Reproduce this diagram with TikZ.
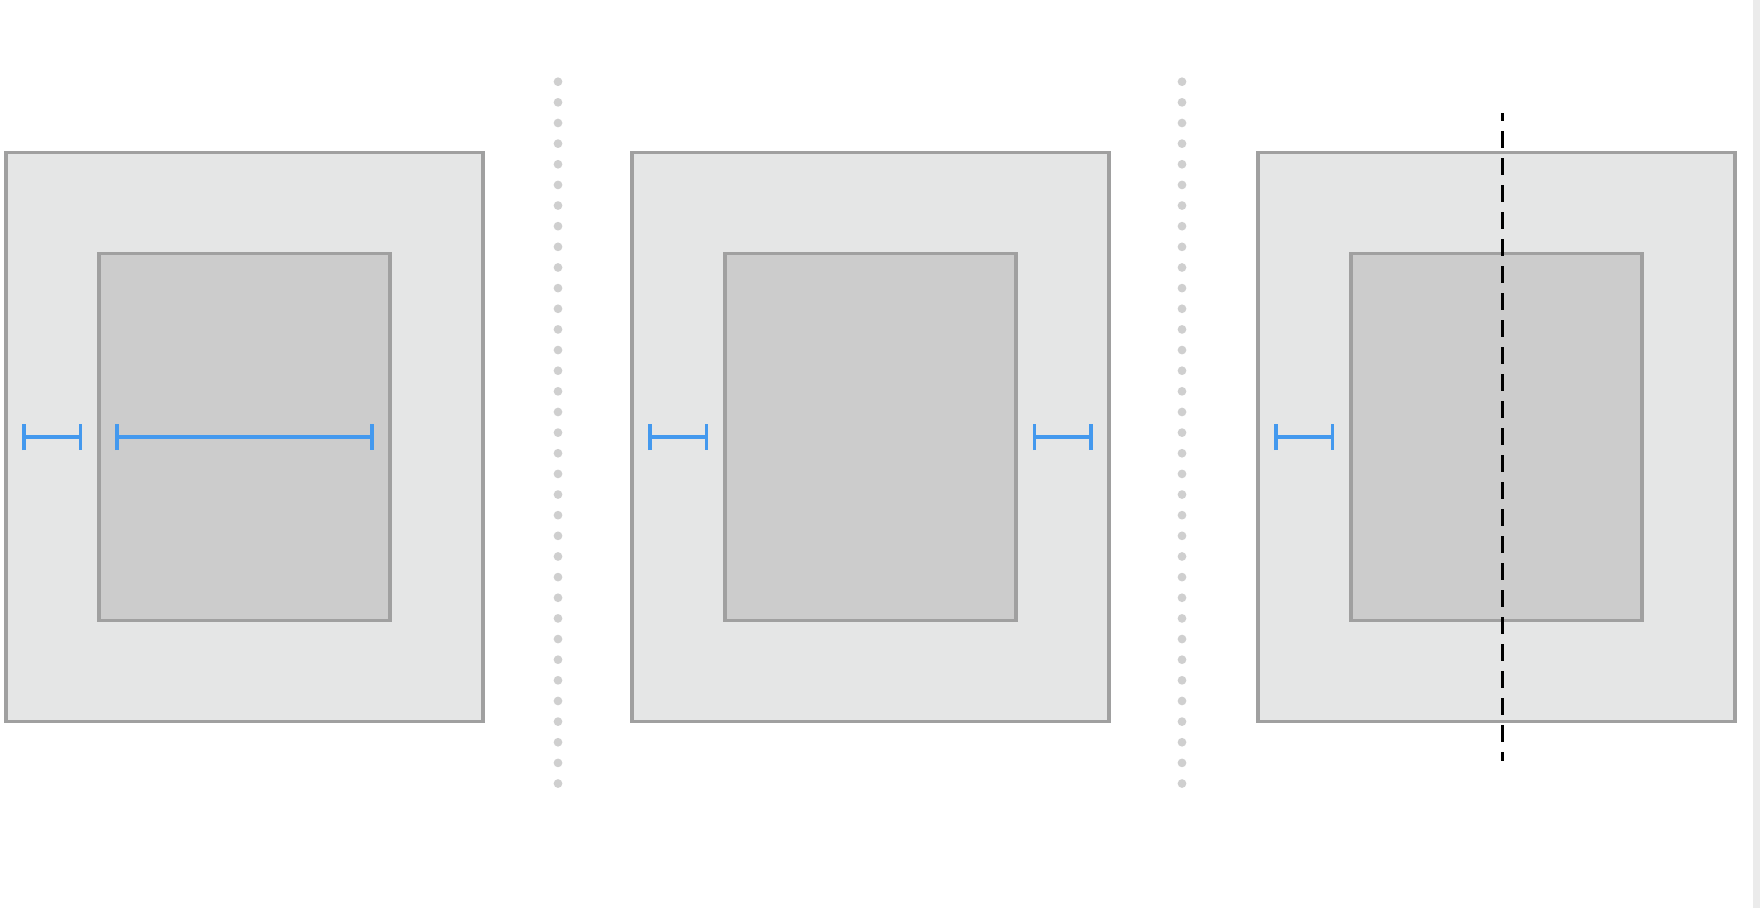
\documentclass[tikz,border=0pt]{standalone}
\usetikzlibrary{arrows.meta}
\definecolor{panelfill}{HTML}{E5E6E6}
\definecolor{corefill}{HTML}{CCCCCC}
\definecolor{edgegray}{HTML}{A0A0A0}
\definecolor{barblue}{HTML}{4499EE}
\definecolor{dotgray}{HTML}{CFCFCF}
\definecolor{stripgray}{HTML}{EBEBEB}
\tikzset{panel/.style={fill=panelfill, draw=edgegray, line width=0.035cm, inner sep=0pt, outer sep=0pt, minimum width=4.77cm, minimum height=5.69cm}}
\tikzset{core/.style={fill=corefill, draw=edgegray, line width=0.035cm, inner sep=0pt, outer sep=0pt, minimum width=2.91cm, minimum height=3.67cm}}
\tikzset{span/.style={draw=barblue, line width=0.036cm, {Bar[width=0.26cm]}-{Bar[width=0.26cm]}}}
\tikzset{sep/.style={draw=dotgray, line width=0.087cm, line cap=round, dash pattern=on 0pt off 0.2063cm}}
\tikzset{cut/.style={draw=black, line width=0.03cm, dash pattern=on 0.17cm off 0.1cm, dash phase=0.09cm}}

\begin{document}
\begin{tikzpicture}[x=0.01cm,y=-0.01cm]
  \useasboundingbox (0,0) rectangle (1760,908);
  \fill[white] (0,0) rectangle (1760,908);
  \fill[stripgray] (1753,0) rectangle (1760,908);
  \foreach \i/\x in {1/244.5,2/870.5,3/1496.5} {
    \node[panel] (panel\i) at (\x,437) {};
    \node[core] (core\i) at (\x,437) {};
    \draw[span] ([xshift=0.165cm]panel\i.west) -- ([xshift=0.765cm]panel\i.west);
  }
  \draw[span] ([xshift=0.16cm]core1.west) -- ([xshift=-0.165cm]core1.east);
  \draw[span] ([xshift=-0.765cm]panel2.east) -- ([xshift=-0.165cm]panel2.east);
  \coordinate (sepA top) at (558,81.7);
  \coordinate (sepA bot) at (558,786);
  \coordinate (sepB top) at (1182,81.7);
  \coordinate (sepB bot) at (1182,786);
  \draw[sep] (sepA top) -- (sepA bot);
  \draw[sep] (sepB top) -- (sepB bot);
  \coordinate (cut top) at (1502,113);
  \coordinate (cut bot) at (1502,761);
  \draw[cut] (cut top) -- (cut bot);
\end{tikzpicture}
\end{document}
